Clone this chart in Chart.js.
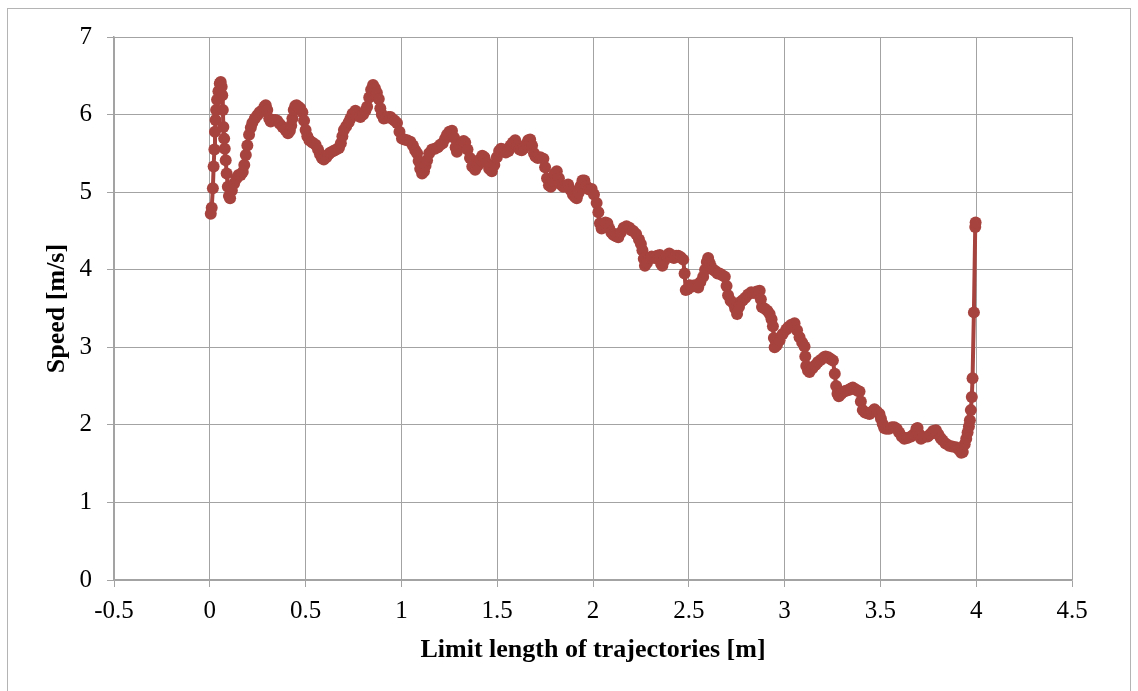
<!DOCTYPE html>
<html>
<head>
<meta charset="utf-8">
<script src="https://cdn.jsdelivr.net/npm/chart.js@4/dist/chart.umd.min.js"></script>
<style>
  html, body { margin: 0; padding: 0; background: #fff; overflow: hidden; }
  #frame { position: absolute; left: 7px; top: 8px; width: 1122px; height: 700px; border: 1px solid #b4b4b4; }
  #speedChart { position: absolute; left: 0; top: 0; }
</style>
</head>
<body>
<div id="frame"></div>
<canvas id="speedChart" width="1138" height="691"></canvas>
<script>
// limit length of trajectory [m] and speed [m/s]
const lengthM = [
  0.005, 0.010, 0.016, 0.020, 0.024, 0.027, 0.030, 0.033, 0.038, 0.045, 0.052, 0.057, 0.062, 0.065, 0.068, 0.071,
  0.075, 0.078, 0.083, 0.088, 0.094, 0.100, 0.106, 0.115, 0.127, 0.140, 0.150, 0.161, 0.172, 0.180, 0.188, 0.196,
  0.205, 0.214, 0.222, 0.235, 0.248, 0.260, 0.272, 0.285, 0.292, 0.300, 0.310, 0.318, 0.330, 0.342, 0.352, 0.365,
  0.380, 0.395, 0.408, 0.418, 0.425, 0.431, 0.438, 0.446, 0.453, 0.462, 0.472, 0.483, 0.492, 0.500, 0.509, 0.520,
  0.535, 0.552, 0.565, 0.575, 0.585, 0.595, 0.608, 0.620, 0.630, 0.645, 0.660, 0.674, 0.684, 0.692, 0.700, 0.712,
  0.725, 0.734, 0.745, 0.760, 0.772, 0.786, 0.800, 0.812, 0.821, 0.832, 0.842, 0.852, 0.862, 0.872, 0.882, 0.890,
  0.898, 0.908, 0.920, 0.932, 0.943, 0.955, 0.965, 0.977, 0.990, 1.003, 1.015, 1.030, 1.047, 1.060, 1.072, 1.082,
  1.090, 1.098, 1.108, 1.118, 1.126, 1.134, 1.145, 1.160, 1.175, 1.190, 1.203, 1.215, 1.228, 1.238, 1.250, 1.264,
  1.275, 1.283, 1.290, 1.302, 1.315, 1.325, 1.333, 1.345, 1.358, 1.370, 1.385, 1.398, 1.410, 1.422, 1.433, 1.445,
  1.458, 1.472, 1.485, 1.498, 1.510, 1.520, 1.533, 1.545, 1.559, 1.570, 1.582, 1.594, 1.605, 1.617, 1.628, 1.640,
  1.652, 1.662, 1.672, 1.682, 1.692, 1.700, 1.712, 1.725, 1.741, 1.750, 1.760, 1.770, 1.780, 1.790, 1.800, 1.811,
  1.822, 1.832, 1.845, 1.858, 1.870, 1.882, 1.895, 1.905, 1.915, 1.925, 1.935, 1.945, 1.955, 1.965, 1.975, 1.984,
  1.993, 2.005, 2.019, 2.028, 2.036, 2.045, 2.055, 2.065, 2.075, 2.085, 2.096, 2.106, 2.120, 2.132, 2.145, 2.160,
  2.175, 2.190, 2.200, 2.210, 2.225, 2.240, 2.250, 2.258, 2.265, 2.271, 2.282, 2.295, 2.306, 2.320, 2.335, 2.349,
  2.355, 2.362, 2.372, 2.385, 2.398, 2.410, 2.422, 2.434, 2.445, 2.458, 2.471, 2.478, 2.484, 2.495, 2.505, 2.514,
  2.530, 2.549, 2.560, 2.575, 2.585, 2.594, 2.601, 2.610, 2.618, 2.627, 2.640, 2.650, 2.661, 2.675, 2.688, 2.697,
  2.705, 2.718, 2.731, 2.742, 2.752, 2.762, 2.773, 2.783, 2.795, 2.810, 2.826, 2.840, 2.855, 2.870, 2.876, 2.882,
  2.895, 2.910, 2.922, 2.932, 2.939, 2.944, 2.948, 2.960, 2.974, 2.990, 3.009, 3.020, 3.035, 3.052, 3.065, 3.078,
  3.092, 3.104, 3.108, 3.113, 3.122, 3.130, 3.145, 3.160, 3.174, 3.190, 3.205, 3.214, 3.228, 3.240, 3.252, 3.262,
  3.269, 3.276, 3.283, 3.296, 3.310, 3.321, 3.335, 3.346, 3.356, 3.370, 3.381, 3.391, 3.398, 3.408, 3.420, 3.432,
  3.443, 3.455, 3.469, 3.482, 3.495, 3.503, 3.512, 3.520, 3.530, 3.545, 3.560, 3.573, 3.585, 3.598, 3.612, 3.625,
  3.640, 3.660, 3.675, 3.688, 3.694, 3.703, 3.712, 3.725, 3.747, 3.760, 3.775, 3.790, 3.802, 3.814, 3.825, 3.840,
  3.859, 3.875, 3.894, 3.910, 3.922, 3.930, 3.940, 3.948, 3.955, 3.962, 3.967, 3.972, 3.977, 3.981, 3.988, 3.995,
  3.997
];
const speedMs = [
  4.72, 4.80, 5.05, 5.33, 5.55, 5.78, 5.93, 6.06, 6.19, 6.30, 6.40, 6.42, 6.36, 6.25, 6.06, 5.84,
  5.69, 5.56, 5.41, 5.24, 5.07, 4.95, 4.92, 5.02, 5.11, 5.18, 5.22, 5.22, 5.26, 5.35, 5.48, 5.60,
  5.74, 5.83, 5.89, 5.95, 5.99, 6.03, 6.05, 6.10, 6.12, 6.06, 5.95, 5.91, 5.93, 5.93, 5.92, 5.88,
  5.84, 5.80, 5.76, 5.79, 5.86, 5.95, 6.06, 6.11, 6.12, 6.10, 6.08, 6.03, 5.92, 5.80, 5.72, 5.67,
  5.64, 5.61, 5.55, 5.49, 5.44, 5.42, 5.45, 5.49, 5.51, 5.53, 5.55, 5.57, 5.63, 5.72, 5.80, 5.85,
  5.90, 5.95, 6.01, 6.05, 6.02, 5.97, 6.00, 6.05, 6.10, 6.22, 6.32, 6.38, 6.34, 6.28, 6.20, 6.08,
  6.00, 5.95, 5.96, 5.97, 5.97, 5.94, 5.92, 5.89, 5.78, 5.69, 5.68, 5.67, 5.65, 5.60, 5.54, 5.50,
  5.40, 5.30, 5.24, 5.27, 5.34, 5.41, 5.50, 5.55, 5.56, 5.58, 5.61, 5.63, 5.69, 5.74, 5.78, 5.79,
  5.70, 5.58, 5.52, 5.58, 5.63, 5.66, 5.64, 5.55, 5.44, 5.33, 5.29, 5.34, 5.42, 5.47, 5.45, 5.38,
  5.30, 5.27, 5.35, 5.45, 5.53, 5.56, 5.55, 5.51, 5.53, 5.60, 5.64, 5.67, 5.60, 5.55, 5.54, 5.57,
  5.62, 5.67, 5.68, 5.60, 5.50, 5.46, 5.44, 5.45, 5.43, 5.32, 5.18, 5.09, 5.07, 5.15, 5.24, 5.27,
  5.18, 5.10, 5.07, 5.08, 5.10, 5.03, 4.97, 4.94, 4.92, 4.99, 5.08, 5.15, 5.15, 5.08, 5.04, 5.03,
  5.04, 4.97, 4.86, 4.74, 4.60, 4.53, 4.56, 4.61, 4.60, 4.53, 4.48, 4.45, 4.43, 4.42, 4.48, 4.54,
  4.56, 4.54, 4.51, 4.50, 4.46, 4.39, 4.33, 4.25, 4.14, 4.05, 4.09, 4.15, 4.17, 4.15, 4.18, 4.19,
  4.08, 4.05, 4.12, 4.18, 4.21, 4.18, 4.15, 4.18, 4.18, 4.16, 4.13, 3.95, 3.74, 3.75, 3.80, 3.78,
  3.80, 3.77, 3.84, 3.91, 4.00, 4.10, 4.15, 4.08, 4.03, 4.00, 3.98, 3.95, 3.95, 3.93, 3.91, 3.79,
  3.67, 3.60, 3.57, 3.50, 3.43, 3.52, 3.59, 3.61, 3.64, 3.68, 3.71, 3.70, 3.72, 3.73, 3.62, 3.52,
  3.50, 3.47, 3.43, 3.36, 3.27, 3.12, 3.00, 3.03, 3.09, 3.17, 3.23, 3.26, 3.29, 3.31, 3.22, 3.13,
  3.06, 3.01, 2.88, 2.76, 2.70, 2.68, 2.73, 2.77, 2.81, 2.84, 2.87, 2.88, 2.87, 2.85, 2.83, 2.66,
  2.50, 2.40, 2.37, 2.40, 2.43, 2.44, 2.45, 2.47, 2.48, 2.46, 2.44, 2.43, 2.30, 2.19, 2.16, 2.15,
  2.14, 2.17, 2.20, 2.17, 2.14, 2.08, 2.01, 1.96, 1.95, 1.95, 1.97, 1.97, 1.95, 1.90, 1.85, 1.82,
  1.83, 1.85, 1.88, 1.95, 1.96, 1.88, 1.82, 1.84, 1.85, 1.88, 1.92, 1.93, 1.88, 1.83, 1.80, 1.76,
  1.73, 1.72, 1.71, 1.68, 1.64, 1.65, 1.75, 1.82, 1.90, 1.98, 2.06, 2.19, 2.36, 2.60, 3.45, 4.55,
  4.61
];
const xTicks = [-0.5, 0, 0.5, 1, 1.5, 2, 2.5, 3, 3.5, 4, 4.5];
const yTicks = [0, 1, 2, 3, 4, 5, 6, 7];

const lineColor = '#a7433e';
const gridColor = '#a3a3a3';
const serif = "'Liberation Serif', 'Times New Roman', serif";

const points = lengthM.map((x, i) => ({ x: x, y: speedMs[i] }));

new Chart(document.getElementById('speedChart'), {
  type: 'line',
  data: {
    datasets: [{
      data: points,
      borderColor: lineColor,
      backgroundColor: lineColor,
      borderWidth: 4,
      pointRadius: 6,
      pointBorderWidth: 0,
      pointBackgroundColor: lineColor,
      tension: 0
    }]
  },
  options: {
    responsive: false,
    animation: false,
    layout: { padding: { left: 0, top: 37, right: 66, bottom: 0 } },
    plugins: { legend: { display: false }, tooltip: { enabled: false } },
    scales: {
      x: {
        type: 'linear',
        min: xTicks[0],
        max: xTicks[xTicks.length - 1],
        afterBuildTicks: s => { s.ticks = xTicks.map(v => ({ value: v })); },
        afterFit: s => { s.height = 111; },
        grid: { color: gridColor, lineWidth: 1, tickLength: 7 },
        border: { color: gridColor, width: 1.5 },
        ticks: {
          color: '#000',
          padding: 9,
          maxRotation: 0,
          font: { family: serif, size: 25 },
          callback: v => String(v)
        },
        title: {
          display: true,
          text: 'Limit length of trajectories [m]',
          color: '#000',
          font: { family: serif, size: 26, weight: 'bold' },
          padding: { top: 0, bottom: 25 }
        }
      },
      y: {
        min: yTicks[0],
        max: yTicks[yTicks.length - 1],
        afterBuildTicks: s => { s.ticks = yTicks.map(v => ({ value: v })); },
        afterFit: s => { s.width = 114; },
        grid: { color: gridColor, lineWidth: 1, tickLength: 7 },
        border: { color: gridColor, width: 1.5 },
        ticks: {
          color: '#000',
          padding: 15,
          font: { family: serif, size: 25 },
          callback: v => String(v)
        },
        title: {
          display: true,
          text: 'Speed [m/s]',
          color: '#000',
          font: { family: serif, size: 26, weight: 'bold' },
          padding: { top: 42, bottom: 0 }
        }
      }
    }
  }
});
</script>
</body>
</html>
